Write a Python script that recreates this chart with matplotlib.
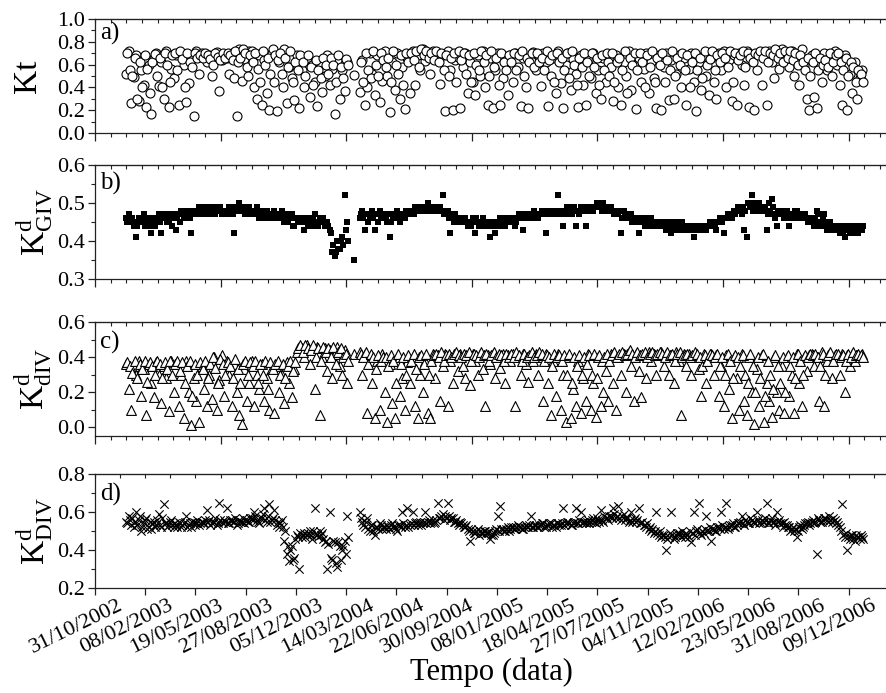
import numpy as np
import matplotlib
matplotlib.use('Agg')
import matplotlib.pyplot as plt
from matplotlib.ticker import MultipleLocator, FormatStrFormatter
import matplotlib.transforms as mtransforms

plt.rcParams['font.family'] = ['Liberation Serif', 'DejaVu Serif']
plt.rcParams['mathtext.fontset'] = 'custom'
plt.rcParams['mathtext.rm'] = 'Liberation Serif'
plt.rcParams['mathtext.it'] = 'Liberation Serif:italic'

# ---------------- DATA ----------------
# sample dates as days counted from 31/10/2002 (two interleaved 5-day samplings)
days_seg1 = list(range(62, 503, 5))      # before the gap in early 2004
days_gap = [515]
days_seg2 = list(range(527, 1528, 5))    # after the gap
days = np.array(days_seg1 + days_gap + days_seg2, dtype=float)
days2 = np.array(list(range(64, 505, 5)) + list(range(529, 1530, 5)), dtype=float)

kt_seg1 = [0.52, 0.72, 0.26, 0.49, 0.68, 0.28, 0.55, 0.42, 0.23, 0.60,
           0.17, 0.66, 0.70, 0.41, 0.62, 0.30, 0.72, 0.23, 0.56, 0.48,
           0.68, 0.25, 0.70, 0.60, 0.27, 0.44, 0.66, 0.15, 0.72, 0.52,
           0.70, 0.67, 0.62, 0.68, 0.50, 0.66, 0.71, 0.37, 0.64, 0.69,
           0.66, 0.52, 0.70, 0.48, 0.15, 0.74, 0.46, 0.65, 0.58, 0.72,
           0.72, 0.40, 0.30, 0.68, 0.25, 0.64, 0.35, 0.20, 0.70, 0.45,
           0.19, 0.62, 0.52, 0.74, 0.26, 0.58, 0.48, 0.29, 0.68, 0.22,
           0.55, 0.40, 0.66, 0.32, 0.60, 0.45, 0.24, 0.62, 0.36, 0.50,
           0.68, 0.42, 0.56, 0.17, 0.64, 0.30, 0.55, 0.37, 0.62]
kt_gap = [0.51]
kt_seg2 = [0.36, 0.64, 0.25, 0.40, 0.70, 0.52, 0.33, 0.68, 0.27, 0.46,
           0.72, 0.50, 0.18, 0.62, 0.38, 0.70, 0.30, 0.58, 0.21, 0.66,
           0.35, 0.72, 0.42, 0.68, 0.55, 0.74, 0.63, 0.70, 0.52, 0.72,
           0.66, 0.70, 0.43, 0.68, 0.19, 0.72, 0.55, 0.20, 0.64, 0.67,
           0.22, 0.58, 0.70, 0.35, 0.62, 0.45, 0.33, 0.68, 0.50, 0.72,
           0.40, 0.25, 0.66, 0.22, 0.55, 0.70, 0.25, 0.48, 0.62, 0.33,
           0.68, 0.45, 0.70, 0.58, 0.24, 0.66, 0.40, 0.22, 0.63, 0.71,
           0.55, 0.68, 0.41, 0.70, 0.62, 0.24, 0.50, 0.66, 0.35, 0.72,
           0.44, 0.22, 0.60, 0.70, 0.38, 0.65, 0.52, 0.23, 0.68, 0.42,
           0.25, 0.64, 0.48, 0.70, 0.35, 0.55, 0.30, 0.66, 0.45, 0.62,
           0.58, 0.28, 0.68, 0.40, 0.25, 0.62, 0.50, 0.72, 0.38, 0.60,
           0.21, 0.66, 0.45, 0.56, 0.70, 0.35, 0.62, 0.48, 0.22, 0.68,
           0.20, 0.58, 0.70, 0.29, 0.64, 0.30, 0.52, 0.68, 0.40, 0.66,
           0.25, 0.56, 0.70, 0.45, 0.19, 0.62, 0.38, 0.68, 0.50, 0.33,
           0.66, 0.45, 0.30, 0.70, 0.55, 0.72, 0.40, 0.64, 0.28, 0.68,
           0.25, 0.70, 0.60, 0.42, 0.72, 0.23, 0.66, 0.20, 0.55, 0.70,
           0.42, 0.68, 0.25, 0.72, 0.62, 0.48, 0.70, 0.56, 0.74, 0.65,
           0.70, 0.58, 0.72, 0.50, 0.66, 0.42, 0.74, 0.60, 0.30, 0.20,
           0.68, 0.32, 0.22, 0.62, 0.45, 0.70, 0.55, 0.66, 0.50, 0.72,
           0.60, 0.42, 0.25, 0.68, 0.20, 0.52, 0.35, 0.62, 0.30, 0.48,
           0.55]
kt_b = [0.70, 0.55, 0.50, 0.66, 0.30, 0.62, 0.40, 0.68, 0.56, 0.35,
        0.62, 0.69, 0.50, 0.66, 0.40, 0.70, 0.60, 0.45, 0.68, 0.70,
        0.55, 0.72, 0.65, 0.40, 0.70, 0.62, 0.58, 0.70, 0.66, 0.68,
        0.66, 0.70, 0.68, 0.65, 0.60, 0.70, 0.67, 0.64, 0.70, 0.66,
        0.70, 0.68, 0.64, 0.72, 0.62, 0.66, 0.74, 0.70, 0.50, 0.68,
        0.62, 0.70, 0.56, 0.45, 0.72, 0.60, 0.66, 0.52, 0.74, 0.68,
        0.64, 0.70, 0.40, 0.66, 0.58, 0.72, 0.45, 0.62, 0.55, 0.68,
        0.62, 0.50, 0.68, 0.58, 0.42, 0.64, 0.55, 0.48, 0.66, 0.60,
        0.52, 0.66, 0.60, 0.45, 0.68, 0.58, 0.48, 0.65, 0.60,
        0.62, 0.45, 0.70, 0.55, 0.48, 0.72, 0.60, 0.50, 0.70, 0.64,
        0.58, 0.66, 0.45, 0.72, 0.60, 0.52, 0.68, 0.42, 0.70, 0.62,
        0.70, 0.64, 0.72, 0.58, 0.74, 0.68, 0.72, 0.66, 0.70, 0.64,
        0.72, 0.62, 0.70, 0.55, 0.68, 0.50, 0.66, 0.70, 0.45, 0.72,
        0.64, 0.70, 0.52, 0.68, 0.45, 0.70, 0.60, 0.55, 0.72, 0.62,
        0.68, 0.50, 0.72, 0.58, 0.66, 0.42, 0.70, 0.62, 0.55, 0.68,
        0.62, 0.70, 0.55, 0.68, 0.72, 0.50, 0.66, 0.62, 0.70, 0.58,
        0.70, 0.62, 0.66, 0.55, 0.72, 0.64, 0.68, 0.45, 0.70, 0.62,
        0.66, 0.55, 0.70, 0.48, 0.72, 0.60, 0.42, 0.66, 0.58, 0.70,
        0.62, 0.50, 0.70, 0.58, 0.66, 0.42, 0.68, 0.55, 0.70, 0.50,
        0.70, 0.45, 0.62, 0.66, 0.55, 0.72, 0.35, 0.66, 0.60, 0.70,
        0.55, 0.70, 0.62, 0.40, 0.68, 0.58, 0.72, 0.45, 0.66, 0.60,
        0.70, 0.45, 0.64, 0.55, 0.72, 0.50, 0.66, 0.60, 0.70, 0.55,
        0.68, 0.40, 0.62, 0.70, 0.55, 0.66, 0.48, 0.72, 0.60, 0.65,
        0.72, 0.55, 0.68, 0.62, 0.70, 0.66, 0.58, 0.72, 0.45, 0.70,
        0.64, 0.68, 0.72, 0.58, 0.70, 0.66, 0.62, 0.70, 0.68, 0.72,
        0.66, 0.72, 0.62, 0.70, 0.68, 0.74, 0.66, 0.70, 0.62, 0.72,
        0.66, 0.72, 0.64, 0.70, 0.60, 0.68, 0.62, 0.55, 0.66, 0.50,
        0.62, 0.70, 0.55, 0.66, 0.60, 0.64, 0.58, 0.70, 0.62, 0.68,
        0.70, 0.62, 0.55, 0.66, 0.50, 0.62, 0.58, 0.45, 0.55, 0.52,
        0.45]

giv_seg1 = [0.46, 0.47, 0.45, 0.44, 0.41, 0.46, 0.45, 0.47, 0.46, 0.44,
            0.42, 0.46, 0.45, 0.47, 0.42, 0.46, 0.47, 0.45, 0.47, 0.46,
            0.43, 0.47, 0.48, 0.46, 0.48, 0.47, 0.42, 0.48, 0.47, 0.49,
            0.48, 0.49, 0.48, 0.47, 0.49, 0.48, 0.49, 0.48, 0.47, 0.48,
            0.48, 0.49, 0.48, 0.42, 0.49, 0.50, 0.48, 0.49, 0.47, 0.49,
            0.48, 0.47, 0.49, 0.46, 0.48, 0.47, 0.48, 0.46, 0.47, 0.48,
            0.47, 0.46, 0.48, 0.45, 0.47, 0.46, 0.47, 0.44, 0.46, 0.45,
            0.46, 0.43, 0.45, 0.46, 0.44, 0.47, 0.45, 0.46, 0.45, 0.44,
            0.45, 0.43, 0.37, 0.36, 0.40, 0.38, 0.41, 0.52, 0.45]
giv_gap = [0.35]
giv_seg2 = [0.46, 0.48, 0.43, 0.47, 0.46, 0.48, 0.43, 0.47, 0.48, 0.46,
            0.47, 0.45, 0.41, 0.47, 0.46, 0.48, 0.45, 0.47, 0.46, 0.48,
            0.47, 0.48, 0.49, 0.48, 0.49, 0.48, 0.49, 0.50, 0.49, 0.48,
            0.49, 0.48, 0.49, 0.52, 0.47, 0.48, 0.42, 0.46, 0.47, 0.45,
            0.46, 0.45, 0.46, 0.44, 0.45, 0.46, 0.42, 0.45, 0.44, 0.46,
            0.45, 0.44, 0.41, 0.45, 0.42, 0.44, 0.46, 0.45, 0.44, 0.45,
            0.46, 0.45, 0.44, 0.46, 0.47, 0.43, 0.46, 0.47, 0.46, 0.47,
            0.47, 0.46, 0.47, 0.48, 0.42, 0.47, 0.48, 0.47, 0.48, 0.52,
            0.48, 0.44, 0.47, 0.48, 0.49, 0.48, 0.44, 0.48, 0.49, 0.48,
            0.44, 0.48, 0.49, 0.48, 0.49, 0.50, 0.49, 0.50, 0.49, 0.49,
            0.49, 0.48, 0.48, 0.47, 0.42, 0.48, 0.47, 0.46, 0.47, 0.46,
            0.46, 0.42, 0.46, 0.45, 0.46, 0.44, 0.46, 0.45, 0.44, 0.45,
            0.44, 0.45, 0.43, 0.44, 0.42, 0.44, 0.45, 0.43, 0.44, 0.43,
            0.44, 0.43, 0.44, 0.41, 0.43, 0.44, 0.43, 0.44, 0.43, 0.44,
            0.44, 0.45, 0.43, 0.45, 0.46, 0.42, 0.46, 0.47, 0.46, 0.48,
            0.48, 0.49, 0.47, 0.43, 0.41, 0.50, 0.52, 0.49, 0.48, 0.50,
            0.49, 0.48, 0.43, 0.50, 0.51, 0.47, 0.44, 0.48, 0.47, 0.46,
            0.48, 0.44, 0.47, 0.46, 0.48, 0.47, 0.46, 0.47, 0.46, 0.45,
            0.46, 0.44, 0.48, 0.45, 0.44, 0.47, 0.43, 0.45, 0.44, 0.43,
            0.44, 0.42, 0.43, 0.41, 0.44, 0.42, 0.43, 0.44, 0.43, 0.44,
            0.43]
giv_b = [0.45, 0.46, 0.46, 0.45, 0.44, 0.45, 0.46, 0.44, 0.45, 0.46,
         0.45, 0.44, 0.46, 0.45, 0.46, 0.47, 0.45, 0.46, 0.44, 0.47,
         0.46, 0.45, 0.47, 0.48, 0.47, 0.46, 0.48, 0.47, 0.48, 0.47,
         0.49, 0.47, 0.48, 0.49, 0.48, 0.47, 0.48, 0.49, 0.48, 0.47,
         0.47, 0.48, 0.47, 0.49, 0.48, 0.48, 0.49, 0.47, 0.48, 0.48,
         0.47, 0.48, 0.47, 0.48, 0.46, 0.48, 0.46, 0.47, 0.46, 0.47,
         0.46, 0.47, 0.46, 0.47, 0.45, 0.46, 0.44, 0.46, 0.45, 0.46,
         0.45, 0.46, 0.44, 0.45, 0.46, 0.45, 0.44, 0.45, 0.46, 0.45,
         0.44, 0.42, 0.39, 0.37, 0.38, 0.40, 0.39, 0.43, 0.40,
         0.47, 0.46, 0.47, 0.45, 0.47, 0.46, 0.47, 0.45, 0.46, 0.47,
         0.46, 0.47, 0.45, 0.46, 0.47, 0.46, 0.47, 0.46, 0.48, 0.47,
         0.48, 0.47, 0.48, 0.49, 0.48, 0.49, 0.48, 0.49, 0.48, 0.49,
         0.48, 0.49, 0.48, 0.47, 0.48, 0.46, 0.47, 0.45, 0.46, 0.46,
         0.45, 0.46, 0.45, 0.45, 0.44, 0.45, 0.46, 0.44, 0.45, 0.45,
         0.44, 0.45, 0.44, 0.44, 0.45, 0.45, 0.44, 0.46, 0.45, 0.46,
         0.45, 0.46, 0.45, 0.47, 0.46, 0.46, 0.47, 0.46, 0.47, 0.48,
         0.46, 0.47, 0.48, 0.47, 0.48, 0.47, 0.47, 0.48, 0.47, 0.48,
         0.47, 0.48, 0.49, 0.48, 0.47, 0.49, 0.48, 0.47, 0.48, 0.49,
         0.49, 0.49, 0.48, 0.49, 0.50, 0.49, 0.48, 0.49, 0.48, 0.48,
         0.48, 0.47, 0.47, 0.48, 0.46, 0.47, 0.46, 0.47, 0.45, 0.46,
         0.45, 0.46, 0.45, 0.44, 0.45, 0.46, 0.45, 0.44, 0.45, 0.44,
         0.45, 0.44, 0.44, 0.45, 0.43, 0.44, 0.43, 0.44, 0.45, 0.44,
         0.43, 0.44, 0.43, 0.44, 0.44, 0.43, 0.44, 0.43, 0.44, 0.45,
         0.45, 0.44, 0.45, 0.46, 0.45, 0.46, 0.47, 0.46, 0.47, 0.47,
         0.49, 0.48, 0.49, 0.48, 0.50, 0.49, 0.48, 0.50, 0.49, 0.48,
         0.48, 0.49, 0.47, 0.48, 0.49, 0.46, 0.48, 0.47, 0.48, 0.47,
         0.47, 0.46, 0.47, 0.48, 0.47, 0.46, 0.47, 0.47, 0.45, 0.46,
         0.45, 0.46, 0.47, 0.44, 0.46, 0.45, 0.44, 0.45, 0.43, 0.44,
         0.43, 0.44, 0.42, 0.43, 0.43, 0.44, 0.42, 0.43, 0.42, 0.43,
         0.44]

dlo_seg1 = [0.36, 0.22, 0.10, 0.35, 0.30, 0.38, 0.18, 0.33, 0.07, 0.36,
            0.25, 0.17, 0.37, 0.30, 0.14, 0.35, 0.28, 0.09, 0.38, 0.20,
            0.36, 0.12, 0.30, 0.05, 0.38, 0.20, 0.01, 0.28, 0.15, 0.03,
            0.35, 0.22, 0.12, 0.30, 0.16, 0.40, 0.10, 0.27, 0.41, 0.18,
            0.38, 0.30, 0.12, 0.36, 0.20, 0.07, 0.02, 0.33, 0.15, 0.25,
            0.38, 0.12, 0.30, 0.22, 0.36, 0.15, 0.28, 0.10, 0.34, 0.08,
            0.35, 0.20, 0.30, 0.14, 0.37, 0.25, 0.17, 0.33, 0.43, 0.46,
            0.45, 0.40, 0.47, 0.36, 0.44, 0.22, 0.46, 0.07, 0.40, 0.45,
            0.32, 0.44, 0.28, 0.42, 0.46, 0.35, 0.30, 0.44, 0.25]
dlo_gap = [0.42]
dlo_seg2 = [0.43, 0.30, 0.42, 0.08, 0.40, 0.25, 0.05, 0.38, 0.10, 0.42,
            0.20, 0.03, 0.36, 0.14, 0.05, 0.40, 0.18, 0.28, 0.10, 0.37,
            0.25, 0.40, 0.12, 0.05, 0.30, 0.20, 0.38, 0.08, 0.05, 0.42,
            0.28, 0.41, 0.15, 0.35, 0.42, 0.12, 0.38, 0.25, 0.41, 0.32,
            0.42, 0.35, 0.28, 0.41, 0.24, 0.42, 0.38, 0.30, 0.42, 0.33,
            0.12, 0.41, 0.36, 0.42, 0.28, 0.40, 0.34, 0.42, 0.25, 0.41,
            0.38, 0.42, 0.12, 0.40, 0.30, 0.42, 0.36, 0.26, 0.41, 0.38,
            0.42, 0.30, 0.40, 0.15, 0.42, 0.25, 0.07, 0.38, 0.18, 0.42,
            0.10, 0.30, 0.03, 0.40, 0.05, 0.22, 0.12, 0.38, 0.08, 0.28,
            0.15, 0.42, 0.10, 0.25, 0.06, 0.40, 0.12, 0.20, 0.32, 0.15,
            0.42, 0.25, 0.10, 0.40, 0.30, 0.42, 0.20, 0.43, 0.35, 0.15,
            0.42, 0.32, 0.17, 0.41, 0.28, 0.43, 0.38, 0.42, 0.30, 0.41,
            0.43, 0.35, 0.42, 0.30, 0.41, 0.25, 0.43, 0.38, 0.07, 0.42,
            0.35, 0.42, 0.30, 0.40, 0.41, 0.33, 0.18, 0.42, 0.25, 0.40,
            0.42, 0.30, 0.41, 0.18, 0.35, 0.12, 0.41, 0.22, 0.05, 0.40,
            0.28, 0.10, 0.42, 0.15, 0.07, 0.40, 0.20, 0.02, 0.33, 0.12,
            0.41, 0.03, 0.25, 0.15, 0.06, 0.40, 0.20, 0.10, 0.35, 0.08,
            0.40, 0.18, 0.30, 0.08, 0.42, 0.25, 0.12, 0.40, 0.32, 0.41,
            0.42, 0.35, 0.40, 0.15, 0.43, 0.12, 0.38, 0.42, 0.28, 0.41,
            0.40, 0.30, 0.42, 0.20, 0.41, 0.35, 0.42, 0.38, 0.41, 0.40,
            0.42]
dlo_b = [0.37, 0.35, 0.31, 0.38, 0.28, 0.36, 0.33, 0.38, 0.26, 0.37,
         0.35, 0.30, 0.38, 0.36, 0.28, 0.37, 0.33, 0.38, 0.30, 0.36,
         0.38, 0.32, 0.37, 0.25, 0.35, 0.38, 0.18, 0.36, 0.30, 0.37,
         0.33, 0.38, 0.28, 0.36, 0.40, 0.34, 0.25, 0.39, 0.36, 0.30,
         0.37, 0.35, 0.28, 0.39, 0.33, 0.25, 0.36, 0.38, 0.30, 0.37,
         0.35, 0.38, 0.25, 0.36, 0.30, 0.38, 0.22, 0.37, 0.33, 0.36,
         0.38, 0.30, 0.36, 0.28, 0.35, 0.38, 0.32, 0.37, 0.45, 0.47,
         0.43, 0.47, 0.45, 0.44, 0.47, 0.40, 0.45, 0.38, 0.46, 0.43,
         0.45, 0.40, 0.46, 0.36, 0.43, 0.45, 0.40, 0.42, 0.38,
         0.42, 0.40, 0.43, 0.36, 0.42, 0.40, 0.33, 0.41, 0.38, 0.40,
         0.40, 0.35, 0.41, 0.38, 0.25, 0.42, 0.36, 0.40, 0.30, 0.41,
         0.38, 0.42, 0.33, 0.40, 0.41, 0.36, 0.42, 0.30, 0.38, 0.41,
         0.42, 0.40, 0.43, 0.38, 0.41, 0.42, 0.40, 0.42, 0.43, 0.41,
         0.40, 0.42, 0.41, 0.43, 0.38, 0.42, 0.41, 0.40, 0.43, 0.41,
         0.42, 0.38, 0.41, 0.43, 0.40, 0.42, 0.41, 0.38, 0.42, 0.40,
         0.42, 0.40, 0.43, 0.41, 0.38, 0.42, 0.40, 0.41, 0.43, 0.40,
         0.41, 0.43, 0.42, 0.38, 0.41, 0.40, 0.35, 0.42, 0.40, 0.41,
         0.38, 0.41, 0.30, 0.42, 0.25, 0.40, 0.35, 0.41, 0.30, 0.40,
         0.36, 0.41, 0.30, 0.42, 0.28, 0.41, 0.38, 0.40, 0.42, 0.38,
         0.41, 0.43, 0.40, 0.42, 0.43, 0.41, 0.42, 0.44, 0.42, 0.40,
         0.43, 0.41, 0.42, 0.43, 0.40, 0.42, 0.43, 0.41, 0.42, 0.43,
         0.42, 0.40, 0.43, 0.41, 0.42, 0.38, 0.42, 0.43, 0.40, 0.41,
         0.42, 0.40, 0.41, 0.43, 0.42, 0.40, 0.35, 0.41, 0.38, 0.42,
         0.41, 0.40, 0.42, 0.35, 0.40, 0.30, 0.42, 0.38, 0.28, 0.41,
         0.40, 0.35, 0.41, 0.30, 0.25, 0.42, 0.35, 0.20, 0.40, 0.28,
         0.42, 0.18, 0.38, 0.30, 0.22, 0.41, 0.35, 0.25, 0.40, 0.20,
         0.41, 0.35, 0.40, 0.28, 0.42, 0.38, 0.30, 0.41, 0.40, 0.42,
         0.41, 0.42, 0.40, 0.35, 0.42, 0.30, 0.41, 0.43, 0.38, 0.42,
         0.42, 0.40, 0.41, 0.38, 0.42, 0.40, 0.43, 0.41, 0.42, 0.41,
         0.40]

dup_seg1 = [0.55, 0.58, 0.53, 0.52, 0.60, 0.56, 0.50, 0.54, 0.57, 0.52,
            0.51, 0.55, 0.53, 0.59, 0.52, 0.64, 0.54, 0.53, 0.56, 0.52,
            0.53, 0.55, 0.52, 0.54, 0.58, 0.53, 0.52, 0.55, 0.54, 0.53,
            0.55, 0.54, 0.61, 0.56, 0.54, 0.55, 0.53, 0.65, 0.55, 0.56,
            0.62, 0.54, 0.56, 0.55, 0.53, 0.56, 0.55, 0.54, 0.56, 0.55,
            0.57, 0.60, 0.56, 0.54, 0.57, 0.62, 0.55, 0.64, 0.56, 0.61,
            0.53, 0.52, 0.56, 0.45, 0.38, 0.34, 0.42, 0.36, 0.48, 0.30,
            0.47, 0.49, 0.48, 0.50, 0.46, 0.62, 0.48, 0.50, 0.49, 0.44,
            0.30, 0.60, 0.35, 0.44, 0.31, 0.42, 0.40, 0.45, 0.58]
dup_gap = [np.nan]
dup_seg2 = [0.60, 0.55, 0.52, 0.57, 0.50, 0.53, 0.48, 0.52, 0.54, 0.51,
            0.52, 0.53, 0.51, 0.54, 0.52, 0.50, 0.53, 0.60, 0.52, 0.62,
            0.53, 0.60, 0.54, 0.53, 0.55, 0.54, 0.60, 0.55, 0.54, 0.56,
            0.55, 0.65, 0.57, 0.59, 0.58, 0.65, 0.56, 0.57, 0.55, 0.54,
            0.55, 0.53, 0.52, 0.51, 0.45, 0.50, 0.49, 0.51, 0.50, 0.49,
            0.50, 0.49, 0.46, 0.48, 0.50, 0.58, 0.63, 0.51, 0.50, 0.52,
            0.51, 0.52, 0.51, 0.53, 0.52, 0.51, 0.53, 0.52, 0.58, 0.52,
            0.53, 0.52, 0.53, 0.54, 0.52, 0.53, 0.54, 0.53, 0.52, 0.54,
            0.53, 0.62, 0.54, 0.55, 0.53, 0.54, 0.62, 0.54, 0.60, 0.55,
            0.54, 0.56, 0.55, 0.57, 0.54, 0.56, 0.61, 0.55, 0.57, 0.56,
            0.58, 0.62, 0.57, 0.63, 0.56, 0.59, 0.57, 0.55, 0.60, 0.56,
            0.55, 0.62, 0.54, 0.53, 0.52, 0.51, 0.50, 0.49, 0.60, 0.48,
            0.47, 0.48, 0.40, 0.47, 0.60, 0.46, 0.48, 0.49, 0.47, 0.48,
            0.49, 0.47, 0.44, 0.60, 0.50, 0.65, 0.48, 0.49, 0.58, 0.50,
            0.45, 0.51, 0.50, 0.52, 0.60, 0.51, 0.65, 0.52, 0.53, 0.52,
            0.53, 0.54, 0.58, 0.53, 0.55, 0.54, 0.56, 0.55, 0.60, 0.54,
            0.56, 0.55, 0.65, 0.54, 0.57, 0.55, 0.60, 0.56, 0.54, 0.55,
            0.53, 0.52, 0.51, 0.50, 0.47, 0.52, 0.51, 0.53, 0.54, 0.53,
            0.55, 0.54, 0.38, 0.56, 0.55, 0.57, 0.56, 0.58, 0.55, 0.56,
            0.55, 0.52, 0.64, 0.47, 0.40, 0.46, 0.48, 0.45, 0.47, 0.46,
            0.47]
dup_b = [0.54, 0.56, 0.57, 0.55, 0.53, 0.58, 0.52, 0.56, 0.51, 0.55,
         0.54, 0.52, 0.56, 0.53, 0.57, 0.54, 0.52, 0.55, 0.53, 0.54,
         0.52, 0.54, 0.53, 0.55, 0.52, 0.54, 0.55, 0.53, 0.56, 0.54,
         0.54, 0.56, 0.55, 0.53, 0.55, 0.57, 0.54, 0.56, 0.54, 0.55,
         0.54, 0.56, 0.55, 0.57, 0.54, 0.55, 0.57, 0.56, 0.55, 0.57,
         0.56, 0.58, 0.55, 0.57, 0.59, 0.56, 0.58, 0.55, 0.57, 0.56,
         0.55, 0.54, 0.52, 0.50, 0.42, 0.40, 0.35, 0.46, 0.47, 0.49,
         0.48, 0.47, 0.49, 0.48, 0.50, 0.49, 0.47, 0.48, 0.46, 0.45,
         0.43, 0.36, 0.45, 0.33, 0.44, 0.35, 0.42, 0.38, 0.47,
         0.57, 0.53, 0.55, 0.51, 0.53, 0.50, 0.52, 0.51, 0.53, 0.52,
         0.51, 0.52, 0.53, 0.52, 0.51, 0.53, 0.52, 0.54, 0.53, 0.52,
         0.54, 0.53, 0.55, 0.54, 0.53, 0.55, 0.54, 0.56, 0.55, 0.54,
         0.56, 0.57, 0.58, 0.56, 0.57, 0.58, 0.57, 0.55, 0.56, 0.53,
         0.54, 0.52, 0.53, 0.50, 0.51, 0.49, 0.50, 0.48, 0.49, 0.50,
         0.49, 0.50, 0.48, 0.49, 0.51, 0.50, 0.51, 0.50, 0.51, 0.50,
         0.52, 0.51, 0.52, 0.52, 0.51, 0.52, 0.52, 0.53, 0.52, 0.53,
         0.52, 0.53, 0.54, 0.52, 0.53, 0.54, 0.52, 0.53, 0.54, 0.53,
         0.54, 0.53, 0.55, 0.54, 0.53, 0.55, 0.54, 0.56, 0.54, 0.55,
         0.55, 0.54, 0.56, 0.55, 0.57, 0.55, 0.56, 0.58, 0.57, 0.58,
         0.57, 0.59, 0.58, 0.57, 0.58, 0.56, 0.57, 0.56, 0.55, 0.57,
         0.56, 0.54, 0.55, 0.53, 0.54, 0.52, 0.51, 0.50, 0.49, 0.50,
         0.48, 0.47, 0.46, 0.49, 0.48, 0.47, 0.49, 0.48, 0.50, 0.47,
         0.48, 0.50, 0.49, 0.48, 0.51, 0.49, 0.50, 0.51, 0.50, 0.52,
         0.51, 0.50, 0.52, 0.51, 0.53, 0.52, 0.51, 0.53, 0.54, 0.52,
         0.54, 0.55, 0.54, 0.56, 0.54, 0.57, 0.55, 0.54, 0.56, 0.55,
         0.55, 0.57, 0.54, 0.56, 0.55, 0.53, 0.55, 0.54, 0.52, 0.53,
         0.52, 0.50, 0.52, 0.51, 0.50, 0.53, 0.52, 0.54, 0.55, 0.54,
         0.56, 0.55, 0.57, 0.55, 0.56, 0.57, 0.55, 0.56, 0.57, 0.54,
         0.53, 0.50, 0.48, 0.49, 0.47, 0.48, 0.46, 0.48, 0.47, 0.48,
         0.46]

kt = np.array(kt_seg1 + kt_gap + kt_seg2)
kd_giv = np.array(giv_seg1 + giv_gap + giv_seg2)
kd_div_lo = np.array(dlo_seg1 + dlo_gap + dlo_seg2)
kd_div_up = np.array(dup_seg1 + dup_gap + dup_seg2)

tick_days = [0, 100, 200, 300, 400, 500, 600, 700, 800, 900, 1000,
             1100, 1200, 1300, 1400, 1500]
date_labels = ['31/10/2002', '08/02/2003', '19/05/2003', '27/08/2003',
               '05/12/2003', '14/03/2004', '22/06/2004', '30/09/2004',
               '08/01/2005', '18/04/2005', '27/07/2005', '04/11/2005',
               '12/02/2006', '23/05/2006', '31/08/2006', '09/12/2006']

panel_tags = ['a)', 'b)', 'c)', 'd)']
ylabels = ['Kt',
           r'$\mathrm{K}^{\mathrm{d}}_{\mathrm{GIV}}$',
           r'$\mathrm{K}^{\mathrm{d}}_{\mathrm{dIV}}$',
           r'$\mathrm{K}^{\mathrm{d}}_{\mathrm{DIV}}$']

# ---------------- FIGURE ----------------
W, H = 886, 693
fig = plt.figure(figsize=(W / 100, H / 100), dpi=100)

left = 95 / W
width = 1.0 - left
rects = [(19, 133), (165, 279), (322, 436), (474, 588)]
ylims = [(0.0, 1.0), (0.3, 0.6), (-0.05, 0.6), (0.2, 0.8)]
ymajor = [0.2, 0.1, 0.2, 0.2]
yminor = [0.1, 0.05, 0.1, 0.1]
tag_y = [0.87, 0.84, 0.82, 0.82]
xmax = (886 - 94) * 1.988

axes = []
for i, (t, b) in enumerate(rects):
    ax = fig.add_axes([left, 1 - b / H, width, (b - t) / H])
    axes.append(ax)
    ax.set_xlim(0, xmax)
    ax.set_ylim(*ylims[i])
    ax.yaxis.set_major_locator(MultipleLocator(ymajor[i]))
    ax.yaxis.set_minor_locator(MultipleLocator(yminor[i]))
    ax.yaxis.set_major_formatter(FormatStrFormatter('%.1f'))
    ax.spines['right'].set_visible(False)
    for s in ['left', 'top', 'bottom']:
        ax.spines[s].set_linewidth(0.9)
        ax.spines[s].set_color('#222222')
    ax.tick_params(axis='y', which='major', direction='out', length=5,
                   width=0.9, labelsize=16, pad=2, colors='#222222',
                   labelcolor='black')
    ax.tick_params(axis='y', which='minor', direction='out', length=3,
                   width=0.8, colors='#222222')
    ax.text(0.006, tag_y[i], panel_tags[i], transform=ax.transAxes,
            fontsize=18, va='center', ha='left')
    ax.set_ylabel(ylabels[i], fontsize=24)
    if i == 0:
        ax.yaxis.set_label_coords(-0.066, 0.5)
    else:
        ax.yaxis.set_label_coords(-0.052, 0.5)
    sec = ax.secondary_xaxis('top')
    sec.tick_params(direction='in', length=3, width=0.8, labeltop=False,
                    colors='#222222')
    if i < 3:
        ax.xaxis.set_major_locator(MultipleLocator(250))
        ax.xaxis.set_minor_locator(MultipleLocator(31.25))
        sec.xaxis.set_major_locator(MultipleLocator(31.25))
        ax.tick_params(axis='x', which='major', direction='out', length=6,
                       width=0.9, labelbottom=False, colors='#222222')
        ax.tick_params(axis='x', which='minor', direction='out', length=3,
                       width=0.8, colors='#222222')
    else:
        sec.xaxis.set_major_locator(MultipleLocator(50))
        ax.set_xticks(tick_days)
        ax.set_xticklabels(date_labels, rotation=26, ha='center',
                           fontsize=16)
        ax.tick_params(axis='x', which='major', direction='out', length=5,
                       width=0.9, pad=1, colors='#222222',
                       labelcolor='black')
        off = mtransforms.ScaledTranslation(-0.19, 0, fig.dpi_scale_trans)
        for lab in ax.get_xticklabels():
            lab.set_transform(lab.get_transform() + off)

circ = dict(s=42, marker='o', facecolors='white', edgecolors='black',
            linewidths=0.8, zorder=3)
axes[0].scatter(days, kt, **circ)
axes[0].scatter(days2, kt_b, **circ)
axes[1].scatter(days, kd_giv, s=24, marker='s', color='black',
                linewidths=0, zorder=3)
axes[1].scatter(days2, giv_b, s=24, marker='s', color='black',
                linewidths=0, zorder=3)
tri = dict(s=50, marker='^', facecolors='white', edgecolors='black',
           linewidths=0.8, zorder=3)
axes[2].scatter(days, kd_div_lo, **tri)
axes[2].scatter(days2, dlo_b, **tri)
axes[3].scatter(days, kd_div_up, s=36, marker='x', color='black',
                linewidths=0.8, zorder=3)
axes[3].scatter(days2, dup_b, s=36, marker='x', color='black',
                linewidths=0.8, zorder=3)

fig.text(0.555, 1 - 672 / H, 'Tempo (data)', ha='center', va='center',
         fontsize=22)

fig.savefig('out.png', dpi=100)
